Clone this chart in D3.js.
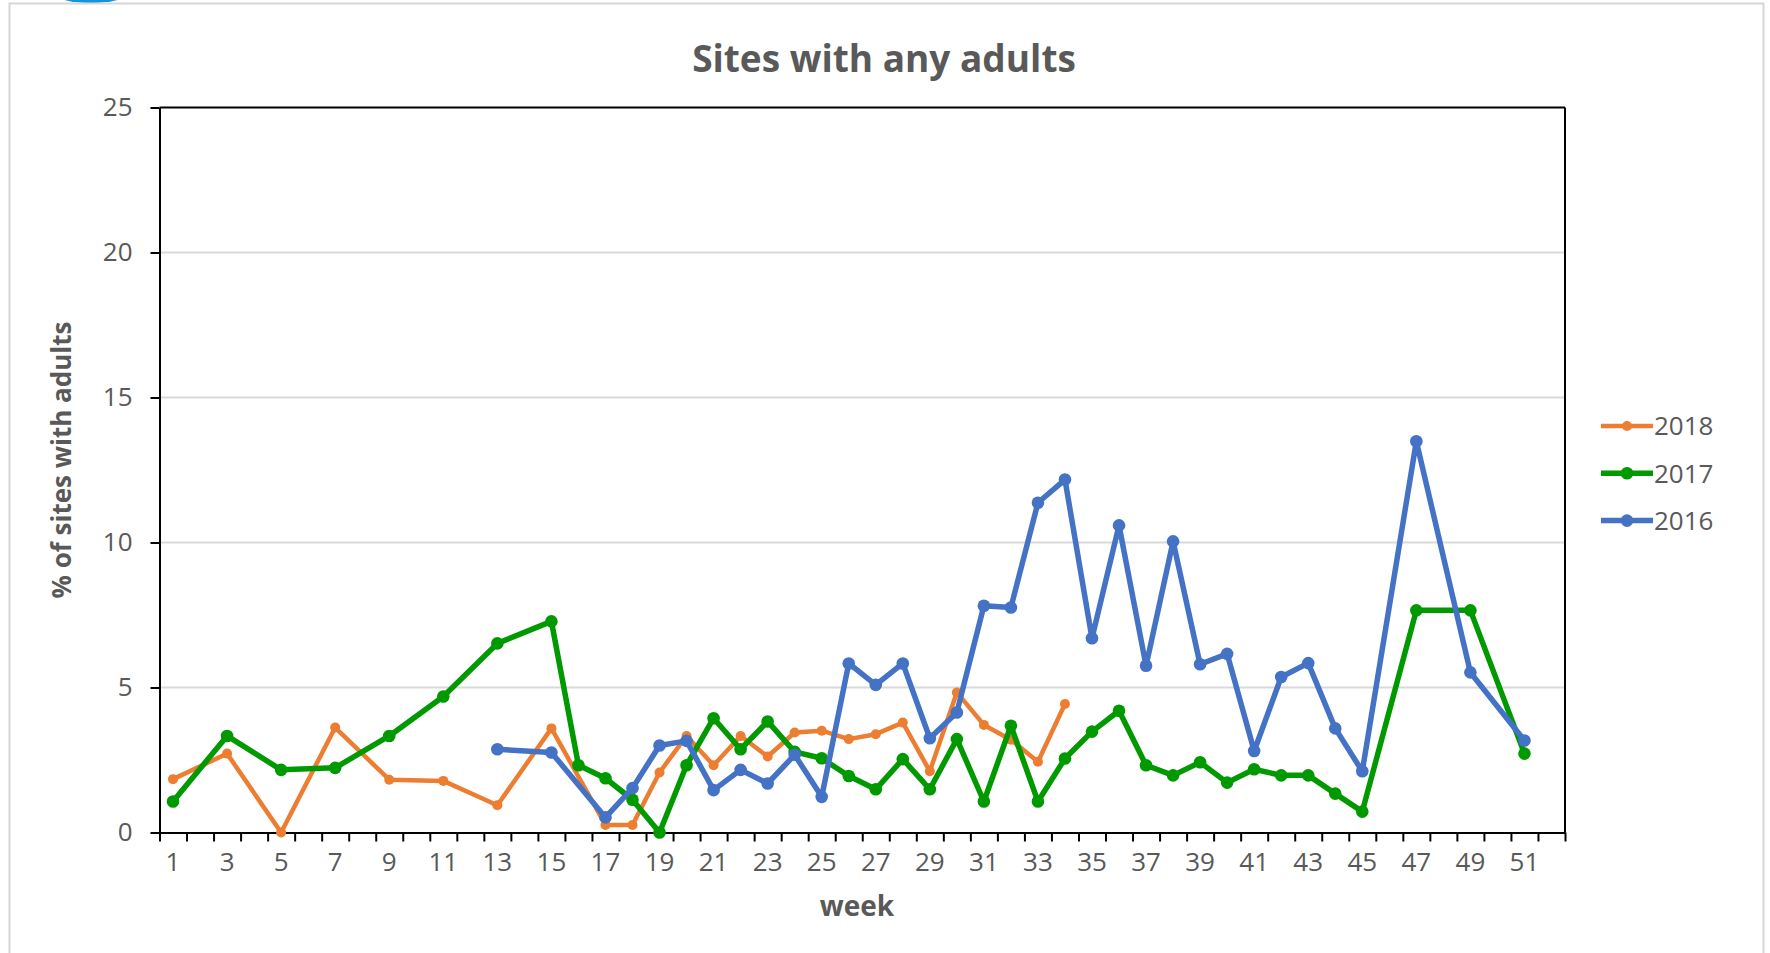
<!DOCTYPE html>
<html>
<head>
<meta charset="utf-8">
<script src="https://cdn.jsdelivr.net/npm/d3@7"></script>
<style>
  body { margin: 0; background: #fff; }
  text { font-family: "Open Sans", "Noto Sans", sans-serif; fill: #595959; }
</style>
</head>
<body>
<svg id="chart" width="1770" height="953"></svg>
<script>
// weeks 1..52 (category axis)
const weeks = d3.range(1, 53);
const weekLabels = weeks.filter(w => w % 2 === 1);
const yTicks = [0, 5, 10, 15, 20, 25];

// % of sites with adults, one value per week (null = no survey)
const s2018 = [1.84, null, 2.72, null, 0, null, 3.62, null, 1.82, null, 1.78, null, 0.94, null, 3.59, null,
  0.26, 0.26, 2.07, 3.33, 2.32, 3.33, 2.62, 3.45, 3.51, 3.22, 3.39, 3.79, 2.11, 4.83, 3.71, 3.2, 2.44, 4.43,
  null, null, null, null, null, null, null, null, null, null, null, null, null, null, null, null, null, null];
const s2017 = [1.07, null, 3.33, null, 2.16, null, 2.23, null, 3.33, null, 4.69, null, 6.52, null, 7.28, 2.32,
  1.87, 1.13, 0, 2.32, 3.94, 2.87, 3.83, 2.78, 2.56, 1.95, 1.49, 2.53, 1.49, 3.22, 1.07, 3.68, 1.07, 2.55,
  3.48, 4.20, 2.32, 1.97, 2.42, 1.72, 2.18, 1.97, 1.97, 1.34, 0.72, null, 7.66, null, 7.66, null, 2.72, null];
const s2016 = [null, null, null, null, null, null, null, null, null, null, null, null, 2.87, null, 2.76, null,
  0.52, 1.53, 3.0, 3.16, 1.46, 2.16, 1.69, 2.68, 1.23, 5.83, 5.09, 5.83, 3.25, 4.14, 7.82, 7.76, 11.37, 12.17,
  6.70, 10.59, 5.75, 10.04, 5.80, 6.16, 2.81, 5.36, 5.84, 3.59, 2.11, null, 13.49, null, 5.52, null, 3.17, null];

const series = [
  { name: "2018", values: s2018, color: "#ED7D31", width: 4.5, r: 5 },
  { name: "2017", values: s2017, color: "#009900", width: 5.5, r: 6.3 },
  { name: "2016", values: s2016, color: "#4472C4", width: 5.5, r: 6.3 }
];

const svg = d3.select("#chart");
const plotL = 159.5, plotR = 1565, plotT = 107.5, plotB = 832.5;

// outer frame + stray blob from the screenshot
svg.append("ellipse").attr("cx", 91).attr("cy", -9).attr("rx", 40).attr("ry", 12).attr("fill", "#1296db");
svg.append("rect").attr("x", 9.5).attr("y", 3.5).attr("width", 1754).attr("height", 1000)
  .attr("fill", "none").attr("stroke", "#d6d6d6").attr("stroke-width", 2);

const x = d3.scaleBand().domain(weeks).range([plotL, plotR]).paddingInner(0).paddingOuter(0);
const xEdge = d3.scaleLinear().domain([0.5, 52.5]).range([plotL, plotR]);
const y = d3.scaleLinear().domain([0, 25]).range([plotB, plotT]);
const cx = w => x(w) + x.bandwidth() / 2;

// gridlines
svg.append("g").selectAll("line").data(yTicks.filter(t => t > 0 && t < 25)).join("line")
  .attr("x1", plotL).attr("x2", plotR).attr("y1", d => y(d)).attr("y2", d => y(d))
  .attr("stroke", "#d9d9d9").attr("stroke-width", 2);

// plot border top/right
svg.append("line").attr("x1", plotL).attr("x2", plotR).attr("y1", plotT).attr("y2", plotT)
  .attr("stroke", "#000").attr("stroke-width", 2);
svg.append("line").attr("x1", plotR).attr("x2", plotR).attr("y1", plotT).attr("y2", plotB)
  .attr("stroke", "#000").attr("stroke-width", 2);

// y axis
const yAxis = svg.append("g").attr("transform", `translate(${plotL},0)`)
  .call(d3.axisLeft(y).tickValues(yTicks).tickSize(9).tickPadding(18).tickSizeOuter(0));
yAxis.selectAll("text").style("font-size", "26px");

// x axis: boundary ticks + odd week labels
const xTicks = svg.append("g").attr("transform", `translate(0,${plotB})`)
  .call(d3.axisBottom(xEdge).tickValues(d3.range(0.5, 53, 1)).tickSize(9).tickFormat("").tickSizeOuter(0));
const xLabels = svg.append("g").attr("transform", `translate(0,${plotB})`)
  .call(d3.axisBottom(x).tickValues(weekLabels).tickSize(0).tickPadding(20));
xLabels.select(".domain").remove();
xLabels.selectAll("text").style("font-size", "26px");

svg.selectAll(".domain, .tick line").attr("stroke", "#000").attr("stroke-width", 2);

// series
const line = d3.line().x(d => cx(d.w)).y(d => y(d.v));
series.forEach(s => {
  const pts = weeks.map((w, i) => ({ w, v: s.values[i] })).filter(d => d.v !== null);
  svg.append("path").datum(pts).attr("d", line).attr("fill", "none")
    .attr("stroke", s.color).attr("stroke-width", s.width).attr("stroke-linejoin", "round");
  svg.append("g").selectAll("circle").data(pts).join("circle")
    .attr("cx", d => cx(d.w)).attr("cy", d => y(d.v)).attr("r", s.r).attr("fill", s.color);
});

// titles
svg.append("text").attr("x", 884).attr("y", 72).attr("text-anchor", "middle")
  .style("font-size", "37px").style("font-weight", "bold").text("Sites with any adults");
svg.append("text").attr("transform", "translate(71,460) rotate(-90)").attr("text-anchor", "middle")
  .style("font-size", "26px").style("font-weight", "bold").text("% of sites with adults");
svg.append("text").attr("x", 857).attr("y", 916).attr("text-anchor", "middle")
  .style("font-size", "28px").style("font-weight", "bold").text("week");

// legend
const legend = svg.append("g").selectAll("g").data(series).join("g")
  .attr("transform", (d, i) => `translate(1601,${426 + i * 47.3})`);
legend.append("line").attr("x1", 0).attr("x2", 52).attr("stroke", d => d.color).attr("stroke-width", d => d.width);
legend.append("circle").attr("cx", 26).attr("r", d => d.r).attr("fill", d => d.color);
legend.append("text").attr("x", 53).attr("dy", "0.36em").style("font-size", "26px").text(d => d.name);
</script>
</body>
</html>
